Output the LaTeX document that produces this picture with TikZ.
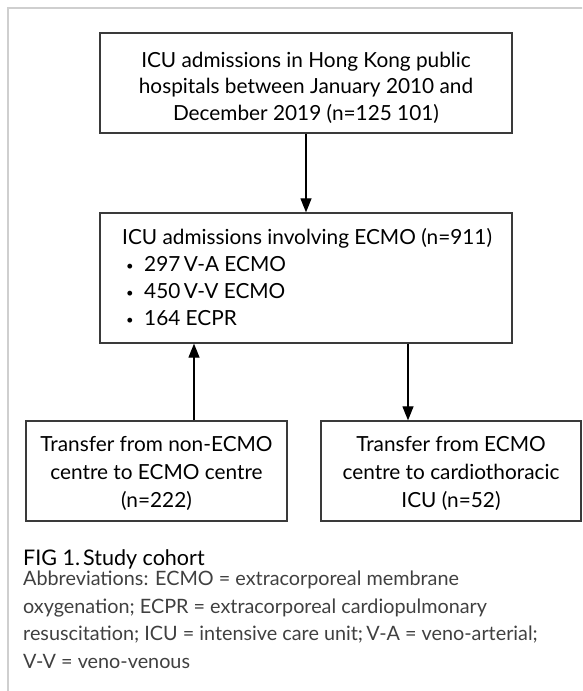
\documentclass[tikz,border=0pt]{standalone}
\usepackage{fontspec}
\setmainfont{Lato}
\usetikzlibrary{arrows.meta,calc}
\definecolor{boxline}{HTML}{3A3A3A}
\definecolor{framegray}{HTML}{CFCFCF}
\definecolor{abbrtext}{HTML}{404040}
\tikzset{
  boxrect/.style={draw=boxline, line width=1.3pt, fill=white, inner sep=0pt},
  boxtext/.style={inner sep=0pt, align=center, font=\fontsize{20.8}{26.5}\selectfont},
  listnode/.style={inner sep=0pt, align=left, anchor=north west,
    font=\fontsize{20.8}{27}\selectfont},
  arr/.style={draw=black, line width=1.2pt, -{Triangle[length=14pt,width=11pt]}},
  captionnode/.style={inner sep=0pt, anchor=west, font=\fontsize{21.5}{27}\selectfont},
  abbrnode/.style={inner sep=0pt, anchor=north west, align=left, text=abbrtext,
    font=\fontsize{19.8}{27.6}\selectfont}
}
\newcommand\blt{\makebox[22pt][l]{\hspace{4pt}\raisebox{1.5pt}{\fontsize{13}{13}\selectfont •}}}
\begin{document}
\begin{tikzpicture}[x=1pt,y=-1pt]
\useasboundingbox (0,0) rectangle (582,691);
\begin{scope}
\clip (0,0) rectangle (582,691);
\draw[framegray, line width=1.2pt] (8,8) rectangle (620,730);
\end{scope}
% top box
\node[boxrect, minimum width=412pt, minimum height=100pt] (top) at (306,83) {};
\node[boxtext] (toptext) at (306,87.5)
  {ICU admissions in Hong Kong public\\hospitals between January 2010 and\\December 2019 (n=125 101)};
% middle box
\node[boxrect, minimum width=412pt, minimum height=130pt] (mid) at (306,278) {};
\node[listnode] (midtext) at (122,228.5)
  {ICU admissions involving ECMO (n=911)\\
   \blt 297\thinspace V-A ECMO\\
   \blt 450\thinspace V-V ECMO\\
   \blt 164 ECPR};
% bottom boxes
\node[boxrect, minimum width=261pt, minimum height=100pt] (lb) at (156.5,471) {};
\node[boxtext, font=\fontsize{20.8}{28}\selectfont] (lbtext) at (156.5,473)
  {Transfer from non-ECMO\\centre to ECMO centre\\(n=222)};
\node[boxrect, minimum width=260pt, minimum height=100pt] (rb) at (451,471) {};
\node[boxtext, font=\fontsize{20.8}{28}\selectfont] (rbtext) at (451,473)
  {Transfer from ECMO\\centre to cardiothoracic\\ICU (n=52)};
% connectors
\coordinate (upx) at (194,0);
\coordinate (downx) at (408,0);
\draw[arr] (top.south) -- (mid.north);
\draw[arr] (lb.north -| upx) -- (mid.south -| upx);
\draw[arr] (mid.south -| downx) -- (rb.north -| downx);
% caption
\node[captionnode] (cap) at (23,559) {FIG 1.\hspace{3pt}Study cohort};
\node[abbrnode] (abbr) at (23,571)
  {Abbreviations: ECMO = extracorporeal membrane\\
   oxygenation; ECPR = extracorporeal cardiopulmonary\\
   resuscitation; ICU = intensive care unit;\thinspace V-A = veno-arterial;\\
   V-V = veno-venous};
\end{tikzpicture}
\end{document}
